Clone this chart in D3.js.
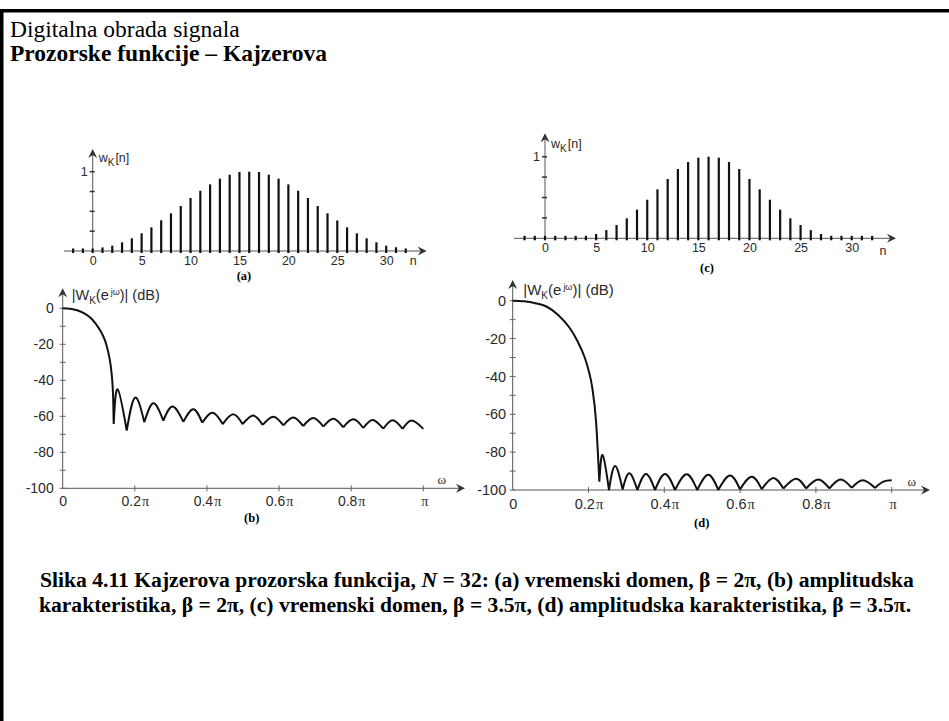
<!DOCTYPE html>
<html>
<head>
<meta charset="utf-8">
<script src="https://cdn.jsdelivr.net/npm/d3@7"></script>
<style>
  body { margin: 0; background: #fff; }
  svg { display: block; }
</style>
</head>
<body>
<div id="chart"></div>
<script>
// Kaiser window, N = 32 : time samples and magnitude responses

const nIdx = [-2, -1, 0, 1, 2, 3, 4, 5, 6, 7, 8, 9, 10, 11, 12, 13, 14, 15, 16,
  17, 18, 19, 20, 21, 22, 23, 24, 25, 26, 27, 28, 29, 30, 31, 32];
const nTicks = [0, 5, 10, 15, 20, 25, 30];

// (a) beta = 2pi
const wA = [0, 0, 0.03, 0.045, 0.067, 0.109, 0.16, 0.223, 0.298, 0.387, 0.475, 0.567, 0.668,
  0.76, 0.84, 0.912, 0.962, 0.996, 1.0, 0.996, 0.962, 0.912, 0.84, 0.76, 0.668, 0.567,
  0.475, 0.385, 0.298, 0.223, 0.16, 0.11, 0.067, 0.047, 0.03];
// (c) beta = 3.5pi
const wC = [0, 0, 0.005, 0.008, 0.012, 0.018, 0.026, 0.053, 0.10, 0.163, 0.245, 0.351, 0.473,
  0.6, 0.727, 0.849, 0.935, 0.988, 1.0, 0.988, 0.935, 0.849, 0.727, 0.6, 0.473, 0.351,
  0.245, 0.163, 0.10, 0.053, 0.026, 0.018, 0.012, 0.008, 0.005];

const dbTicks = [0, -20, -40, -60, -80, -100];
const dbMinor = [-10, -30, -50, -70, -90];
const wTicks = [0, 0.2, 0.4, 0.6, 0.8, 1];
const wTickLabels = ['0', '0.2', '0.4', '0.6', '0.8', ''];

// (b) main lobe, omega in units of pi
const bMainW = [0, 0.02, 0.04, 0.06, 0.08, 0.10, 0.11, 0.12, 0.13, 0.135, 0.14, 0.1414];
const bMainDb = [0, -0.3, -1.1, -2.8, -5.8, -11, -14.5, -19.5, -28, -35, -50, -64.3];
// (b) side lobes: null, peak, null, peak ... last point
const bSideW = [0.1414, 0.1525, 0.1775, 0.2006, 0.2264, 0.2514, 0.279, 0.305, 0.3346, 0.3623,
  0.387, 0.416, 0.4436, 0.473, 0.499, 0.5287, 0.5545, 0.584, 0.612, 0.6396, 0.667, 0.695,
  0.7227, 0.7505, 0.778, 0.806, 0.8336, 0.8595, 0.889, 0.915, 0.9427, 0.9677, 1.0];
const bSideDb = [-64.3, -45, -68, -49.6, -63.3, -52.8, -62.4, -54.6, -63.1, -56.1, -63.5, -58,
  -64.3, -58.9, -64.4, -59.6, -64.8, -60.2, -65, -60.6, -65.4, -61, -65.7, -61.3, -66.1,
  -61.7, -66.5, -62, -66.9, -62.2, -67, -62.4, -67];

// (d) main lobe
const dMainW = [0, 0.03, 0.06, 0.09, 0.12, 0.15, 0.17, 0.19, 0.20, 0.21, 0.22, 0.2286];
const dMainDb = [0, -0.3, -1.3, -3.2, -7.5, -14.3, -21, -30, -36.6, -46, -64, -95.6];
// (d) side lobes
const dSideW = [0.2286, 0.2374, 0.254, 0.27, 0.290, 0.3077, 0.329, 0.3517, 0.3755, 0.4019,
  0.4283, 0.459, 0.487, 0.516, 0.5425, 0.5734, 0.5998, 0.6306, 0.657, 0.6877, 0.714, 0.7475,
  0.774, 0.8064, 0.8354, 0.8654, 0.8945, 0.9235, 0.956, 0.978, 1.0];
const dSideDb = [-95.6, -81.5, -100, -87.3, -99.7, -91.2, -100, -91.5, -100, -91.5, -100, -91.7,
  -100, -92, -100, -92.4, -99.7, -93, -99.5, -93.6, -99.2, -94, -99.2, -94.5, -99.2, -94.5,
  -98.9, -94.9, -98.9, -95.6, -94.9];

const SANS = '"Liberation Sans", Arial, sans-serif';
const SERIF = '"Liberation Serif", "Times New Roman", serif';
const INK = '#2a2a2a';

const svg = d3.select('#chart').append('svg')
  .attr('width', 949)
  .attr('height', 721);

// slide frame (top and left edge)
svg.append('rect').attr('x', 0).attr('y', 9).attr('width', 949).attr('height', 3.5).attr('fill', '#000');
svg.append('rect').attr('x', 0).attr('y', 9).attr('width', 3.5).attr('height', 712).attr('fill', '#000');

svg.append('text').attr('x', 10).attr('y', 36.5)
  .attr('font-family', SERIF).attr('font-size', 23.5)
  .text('Digitalna obrada signala');
svg.append('text').attr('x', 10).attr('y', 61)
  .attr('font-family', SERIF).attr('font-size', 23.5).attr('font-weight', 'bold')
  .text('Prozorske funkcije – Kajzerova');

function arrow(g, x, y, dir) {
  // notched arrow head, dir 'right' or 'up'
  const p = dir === 'right'
    ? `M${x},${y} L${x - 9},${y - 4.5} L${x - 6},${y} L${x - 9},${y + 4.5} Z`
    : `M${x},${y} L${x - 4.5},${y + 9} L${x},${y + 6} L${x + 4.5},${y + 9} Z`;
  g.append('path').attr('d', p).attr('fill', '#333');
}

function stemPlot(cfg, vals) {
  const x = d3.scaleLinear().domain([0, 30]).range([cfg.x0, cfg.x30]);
  const y = d3.scaleLinear().domain([0, 1]).range([cfg.yBase, cfg.yOne]);
  const g = svg.append('g');

  g.append('line')
    .attr('x1', cfg.axisStart).attr('x2', cfg.arrowTip - 4)
    .attr('y1', y(0)).attr('y2', y(0))
    .attr('stroke', '#555').attr('stroke-width', 1);
  arrow(g, cfg.arrowTip, y(0), 'right');

  g.append('line')
    .attr('x1', x(0)).attr('x2', x(0))
    .attr('y1', y(0)).attr('y2', cfg.yTop + 4)
    .attr('stroke', '#555').attr('stroke-width', 1);
  arrow(g, x(0), cfg.yTop, 'up');

  g.selectAll('line.ytick')
    .data([0.25, 0.5, 0.75, 1])
    .join('line')
    .attr('class', 'ytick')
    .attr('x1', x(0) - 3).attr('x2', x(0) + 2)
    .attr('y1', d => y(d)).attr('y2', d => y(d))
    .attr('stroke', '#333').attr('stroke-width', 1.5);

  g.selectAll('line.stem')
    .data(vals)
    .join('line')
    .attr('class', 'stem')
    .attr('x1', (d, i) => x(nIdx[i])).attr('x2', (d, i) => x(nIdx[i]))
    .attr('y1', y(0) + 2)
    .attr('y2', d => Math.min(y(d), y(0) - 2.5))
    .attr('stroke', '#111').attr('stroke-width', 2.2);

  const ax = g.append('g')
    .attr('transform', `translate(0,${y(0)})`)
    .call(d3.axisBottom(x).tickValues(nTicks).tickSize(0).tickPadding(cfg.tickPad)
      .tickFormat(d => String(d)));
  ax.select('.domain').remove();
  ax.selectAll('text').attr('font-family', SANS).attr('font-size', 12.5).attr('fill', INK);

  g.append('text').attr('x', x(0) - 5).attr('y', y(1) + 4)
    .attr('text-anchor', 'end').attr('font-family', SANS).attr('font-size', 12.5).attr('fill', INK)
    .text('1');

  g.append('text').attr('x', cfg.nLabel[0]).attr('y', cfg.nLabel[1])
    .attr('text-anchor', 'middle').attr('font-family', SANS).attr('font-size', 12.5).attr('fill', INK)
    .text('n');

  const yl = g.append('text').attr('x', x(0) + 6).attr('y', cfg.yLabelY)
    .attr('font-family', SANS).attr('font-size', 12.5).attr('fill', INK);
  yl.append('tspan').text('w');
  yl.append('tspan').attr('dy', 4).attr('font-size', 10).text('K');
  yl.append('tspan').attr('dy', -4).attr('dx', 1).text('[n]');

  g.append('text').attr('x', cfg.tag[0]).attr('y', cfg.tag[1])
    .attr('text-anchor', 'middle').attr('font-family', SERIF).attr('font-size', 12.5)
    .attr('font-weight', 'bold').text(cfg.tagText);
}

function dbPlot(cfg, mainW, mainDb, sideW, sideDb) {
  const x = d3.scaleLinear().domain([0, 1]).range([cfg.x0, cfg.xPi]);
  const y = d3.scaleLinear().domain([-100, 0]).range([cfg.y100, cfg.y0]);
  const g = svg.append('g');

  g.append('line')
    .attr('x1', x(0)).attr('x2', cfg.arrowTip - 4)
    .attr('y1', y(-100)).attr('y2', y(-100))
    .attr('stroke', '#555').attr('stroke-width', 1);
  arrow(g, cfg.arrowTip, y(-100), 'right');

  g.append('line')
    .attr('x1', x(0)).attr('x2', x(0))
    .attr('y1', y(-100)).attr('y2', cfg.yTop + 4)
    .attr('stroke', '#555').attr('stroke-width', 1);
  arrow(g, x(0), cfg.yTop, 'up');

  g.selectAll('line.ytick')
    .data(dbTicks.concat(dbMinor))
    .join('line')
    .attr('class', 'ytick')
    .attr('x1', x(0) - 3).attr('x2', x(0) + 3)
    .attr('y1', d => y(d)).attr('y2', d => y(d))
    .attr('stroke', '#666').attr('stroke-width', 1);

  g.selectAll('line.xtick')
    .data(wTicks.slice(1))
    .join('line')
    .attr('class', 'xtick')
    .attr('x1', d => x(d)).attr('x2', d => x(d))
    .attr('y1', y(-100) - 3).attr('y2', y(-100) + 3)
    .attr('stroke', '#666').attr('stroke-width', 1);

  const ay = g.append('g')
    .attr('transform', `translate(${x(0)},0)`)
    .call(d3.axisLeft(y).tickValues(dbTicks).tickSize(0).tickPadding(cfg.yPad)
      .tickFormat(d => String(d)));
  ay.select('.domain').remove();
  ay.selectAll('text').attr('font-family', SANS).attr('font-size', cfg.fs).attr('fill', INK);

  const axx = g.append('g')
    .attr('transform', `translate(0,${y(-100)})`)
    .call(d3.axisBottom(x).tickValues(wTicks).tickSize(0).tickPadding(cfg.xPad)
      .tickFormat((d, i) => wTickLabels[i]));
  axx.select('.domain').remove();
  axx.selectAll('text').attr('font-family', SANS).attr('font-size', cfg.fs).attr('fill', INK)
    .each(function (d) {
      if (d > 0) {
        d3.select(this).append('tspan').attr('font-family', SERIF).attr('dx', 1).text('π');
      }
    });

  // magnitude curve: main lobe, then side lobes drawn null-to-null
  const mainLine = d3.line().x(d => x(d[0])).y(d => y(d[1])).curve(d3.curveMonotoneX);
  const lobeLine = d3.line().x(d => x(d[0])).y(d => y(d[1])).curve(d3.curveNatural);
  let path = mainLine(mainW.map((w, i) => [w, mainDb[i]]));
  for (let i = 0; i + 1 < sideW.length; i += 2) {
    const seg = [];
    for (let k = i; k <= Math.min(i + 2, sideW.length - 1); k++) seg.push([sideW[k], sideDb[k]]);
    path += lobeLine(seg);
  }
  g.append('path').attr('d', path)
    .attr('fill', 'none').attr('stroke', '#111').attr('stroke-width', 2)
    .attr('stroke-linejoin', 'round');

  const yl = g.append('text').attr('x', cfg.yLabel[0]).attr('y', cfg.yLabel[1])
    .attr('font-family', SANS).attr('font-size', cfg.fs + 0.5).attr('fill', INK);
  yl.append('tspan').text('|W');
  yl.append('tspan').attr('dy', 4).attr('font-size', 10).text('K');
  yl.append('tspan').attr('dy', -4).text('(e');
  yl.append('tspan').attr('dy', -5).attr('dx', 2).attr('font-size', 9).text('jω');
  yl.append('tspan').attr('dy', 5).text(')| (dB)');

  g.append('text').attr('x', cfg.omega[0]).attr('y', cfg.omega[1])
    .attr('text-anchor', 'middle').attr('font-family', SERIF).attr('font-size', 13).attr('fill', INK)
    .text('ω');

  g.append('text').attr('x', cfg.tag[0]).attr('y', cfg.tag[1])
    .attr('text-anchor', 'middle').attr('font-family', SERIF).attr('font-size', 12.5)
    .attr('font-weight', 'bold').text(cfg.tagText);
}

stemPlot({
  x0: 92.7, x30: 386.2, yBase: 251, yOne: 171.7, yTop: 149,
  axisStart: 64, arrowTip: 426.7, tickPad: 5, nLabel: [413.3, 265],
  yLabelY: 162, tag: [244, 280], tagText: '(a)'
}, wA);

stemPlot({
  x0: 545, x30: 851.7, yBase: 238.3, yOne: 156.7, yTop: 133.3,
  axisStart: 514, arrowTip: 896, tickPad: 5, nLabel: [883, 255],
  yLabelY: 148, tag: [707, 272], tagText: '(c)'
}, wC);

dbPlot({
  x0: 62.7, xPi: 423.3, y0: 308.3, y100: 488.3, yTop: 288.3, arrowTip: 465,
  fs: 14, yPad: 9, xPad: 8, yLabel: [71.7, 300], omega: [441.7, 484],
  tag: [251.7, 522], tagText: '(b)'
}, bMainW, bMainDb, bSideW, bSideDb);

dbPlot({
  x0: 512.7, xPi: 891.7, y0: 300.7, y100: 490, yTop: 280, arrowTip: 930,
  fs: 14.5, yPad: 6.5, xPad: 9, yLabel: [523.3, 295], omega: [911.7, 486],
  tag: [701.7, 527], tagText: '(d)'
}, dMainW, dMainDb, dSideW, dSideDb);

// caption
const cap = svg.append('text')
  .attr('font-family', SERIF).attr('font-size', 21.6).attr('font-weight', 'bold')
  .attr('text-anchor', 'middle');
const l1 = cap.append('tspan').attr('x', 477).attr('y', 587);
l1.append('tspan').text('Slika 4.11 Kajzerova prozorska funkcija, ');
l1.append('tspan').attr('font-style', 'italic').text('N');
l1.append('tspan').text(' = 32: (a) vremenski domen, β = 2π, (b) amplitudska');
cap.append('tspan').attr('x', 475).attr('y', 612)
  .text('karakteristika, β = 2π, (c) vremenski domen, β = 3.5π, (d) amplitudska karakteristika, β = 3.5π.');
</script>
</body>
</html>
